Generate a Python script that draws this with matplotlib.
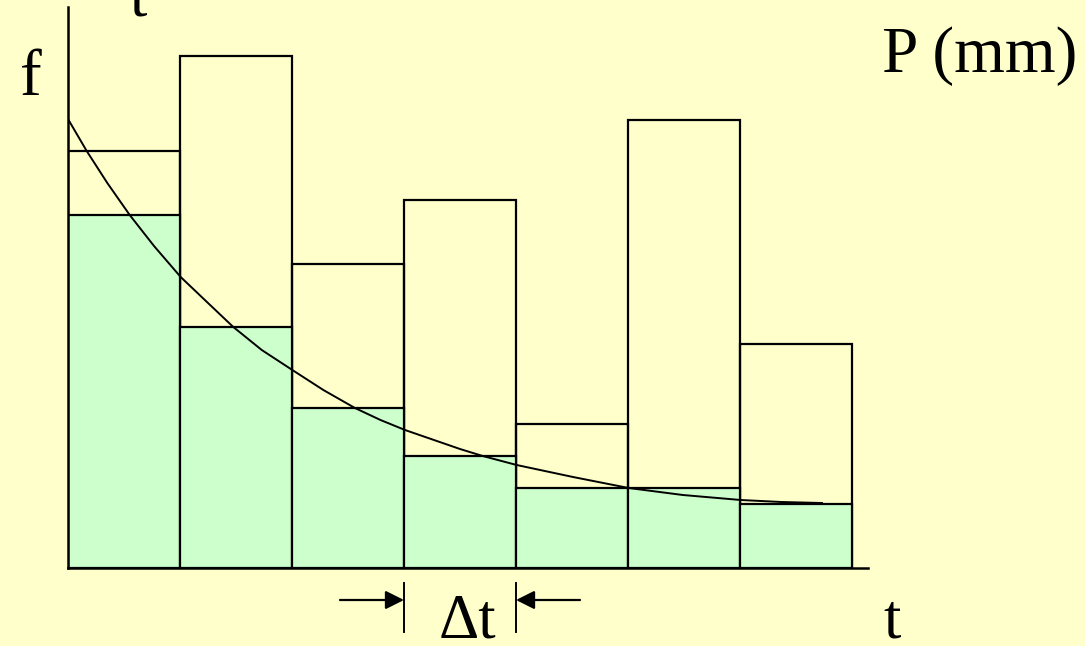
"""Rainfall hyetograph with infiltration capacity curve (f vs t)."""

import matplotlib.pyplot as plt
import numpy as np

# rainfall depth per interval and the part that infiltrates
intervals = np.arange(7)
rain = [417, 512, 304, 368, 144, 448, 224]
infiltrated = [353, 241, 160, 112, 80, 80, 64]

# infiltration capacity curve f(t), t in units of the interval
curve_t = [0.0, 0.167, 0.351, 0.551, 0.768, 1.006, 1.25, 1.476, 1.73,
           2.003, 2.28, 2.562, 2.79, 3.009, 3.5, 3.703, 4.006, 4.509,
           5.006, 5.49, 6.006, 6.37, 6.732]
curve_f = [449, 417, 385, 353, 322, 291, 265, 241, 218,
           198, 178, 160, 148, 138, 119, 112, 103, 91,
           80, 73, 68, 66, 65]

BG = "#FFFFCC"
GREEN = "#CCFFCC"
W, H = 1085, 646

plt.rcParams["font.family"] = ["Liberation Serif", "DejaVu Serif"]

fig = plt.figure(figsize=(W / 100, H / 100), dpi=100, facecolor=BG)
ax = fig.add_axes([68 / W, (H - 568) / H, 800 / W, 561 / H])
ax.set_facecolor(BG)
ax.set_xlim(0, 800 / 112)
ax.set_ylim(0, 561)

ax.bar(intervals, rain, width=1, align="edge", facecolor="none",
       edgecolor="black", linewidth=1.6)
ax.bar(intervals, infiltrated, width=1, align="edge", facecolor=GREEN,
       edgecolor="black", linewidth=1.6)
ax.plot(curve_t, curve_f, color="black", linewidth=1.4,
        solid_joinstyle="round")

for side in ("top", "right"):
    ax.spines[side].set_visible(False)
for side in ("left", "bottom"):
    ax.spines[side].set_linewidth(1.8)
ax.set_xticks([])
ax.set_yticks([])

# delta t marker under the fourth interval
for x in (3, 4):
    ax.plot([x, x], [-15, -64], color="black", linewidth=1.4, clip_on=False)
ax.annotate("", xy=(3, -32), xytext=(3 - 64 / 112, -32),
            arrowprops=dict(arrowstyle="-|>", color="black", lw=1.6,
                            mutation_scale=28, shrinkA=0, shrinkB=0),
            annotation_clip=False)
ax.annotate("", xy=(4, -32), xytext=(4 + 64 / 112, -32),
            arrowprops=dict(arrowstyle="-|>", color="black", lw=1.6,
                            mutation_scale=28, shrinkA=0, shrinkB=0),
            annotation_clip=False)

fs = 45
fig.text(467 / W, 1 - 638 / H, "\u0394t", fontsize=fs, ha="center",
         va="baseline")
fig.text(892 / W, 1 - 638 / H, "t", fontsize=fs, ha="center", va="baseline")
fig.text(31 / W, 1 - 95 / H, "f", fontsize=47, ha="center", va="baseline")
fig.text(138 / W, 1 - 15 / H, "t", fontsize=fs, ha="center", va="baseline")
fig.text(980 / W, 1 - 72 / H, "P (mm)", fontsize=47, ha="center",
         va="baseline")

fig.savefig("out.png", dpi=100, facecolor=BG)
